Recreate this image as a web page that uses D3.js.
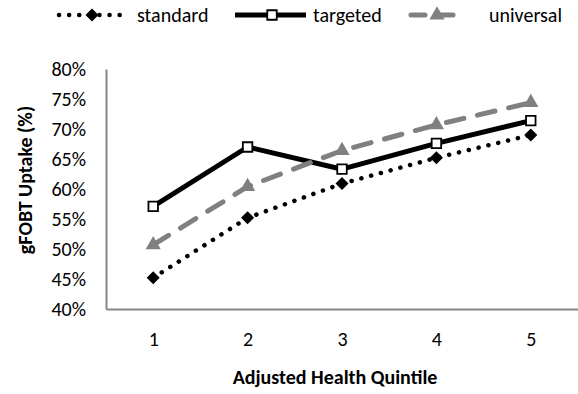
<!DOCTYPE html>
<html>
<head>
<meta charset="utf-8">
<script src="https://cdn.jsdelivr.net/npm/d3@7"></script>
<style>
  body { margin: 0; background: #fff; }
  text { font-family: Carlito, Lato, "Liberation Sans", sans-serif; }
</style>
</head>
<body>
<div id="chart"></div>
<script>
const quintiles = [1, 2, 3, 4, 5];
const standard = [0.452, 0.552, 0.609, 0.652, 0.690];
const targeted = [0.571, 0.670, 0.633, 0.676, 0.714];
const universal = [0.507, 0.604, 0.664, 0.707, 0.744];
const yTicks = [0.40, 0.45, 0.50, 0.55, 0.60, 0.65, 0.70, 0.75, 0.80];

const WIDTH = 578;
const HEIGHT = 394;
const AXIS_COLOR = "#868686";
const FONT = 20;

const svg = d3.select("#chart").append("svg")
  .attr("width", WIDTH)
  .attr("height", HEIGHT);

svg.append("rect")
  .attr("width", "100%")
  .attr("height", "100%")
  .attr("fill", "white");

const xScale = d3.scalePoint()
  .domain(quintiles)
  .range([106, 578])
  .padding(0.5);

const yScale = d3.scaleLinear()
  .domain([0.40, 0.80])
  .range([309, 69]);

// y axis
const yAxis = svg.append("g")
  .attr("transform", "translate(106,0)")
  .call(d3.axisLeft(yScale).tickValues(yTicks).tickFormat(d3.format(".0%")).tickSize(0).tickPadding(20));
yAxis.select(".domain").attr("stroke", AXIS_COLOR).attr("stroke-width", 2);
yAxis.selectAll("text").attr("font-size", FONT).attr("fill", "#000")
  .style("font-family", "Carlito, Lato, sans-serif");

// x axis
const xAxis = svg.append("g")
  .attr("transform", "translate(0,309)")
  .call(d3.axisBottom(xScale).tickSize(0).tickPadding(23));
xAxis.select(".domain").attr("stroke", AXIS_COLOR).attr("stroke-width", 2);
xAxis.selectAll("text").attr("font-size", FONT).attr("fill", "#000")
  .style("font-family", "Carlito, Lato, sans-serif");

// axis titles
svg.append("text")
  .attr("x", 335)
  .attr("y", 384)
  .attr("text-anchor", "middle")
  .attr("font-size", 20)
  .attr("font-weight", "bold")
  .text("Adjusted Health Quintile");

svg.append("text")
  .attr("transform", "translate(32,180) rotate(-90)")
  .attr("text-anchor", "middle")
  .attr("font-size", 20)
  .attr("font-weight", "bold")
  .text("gFOBT Uptake (%)");

const line = d3.line()
  .x((d, i) => xScale(quintiles[i]))
  .y(d => yScale(d));

const series = [
  { name: "standard", values: standard, color: "#000", width: 4.5, dash: "0.1 10", cap: "round", marker: d3.symbolSquare, rot: 45, size: 85, fill: "#000", mstroke: "none" },
  { name: "targeted", values: targeted, color: "#000", width: 5, dash: null, cap: "butt", marker: d3.symbolSquare, rot: 0, size: 90, fill: "#fff", mstroke: "#000" },
  { name: "universal", values: universal, color: "#808080", width: 5, dash: "18 14", cap: "round", marker: d3.symbolTriangle, rot: 0, size: 100, fill: "#808080", mstroke: "none" }
];

series.forEach(s => {
  svg.append("path")
    .datum(s.values)
    .attr("fill", "none")
    .attr("stroke", s.color)
    .attr("stroke-width", s.width)
    .attr("stroke-dasharray", s.dash)
    .attr("stroke-linecap", s.cap)
    .attr("stroke-linejoin", "round")
    .attr("d", line);

  svg.selectAll(null)
    .data(s.values)
    .enter()
    .append("path")
    .attr("transform", (d, i) => `translate(${xScale(quintiles[i])},${yScale(d)}) rotate(${s.rot})`)
    .attr("d", d3.symbol().type(s.marker).size(s.size))
    .attr("fill", s.fill)
    .attr("stroke", s.mstroke)
    .attr("stroke-width", 1.8);
});

// legend
const legend = [
  { s: series[0], x1: 59, x2: 124, mx: 92, tx: 137 },
  { s: series[1], x1: 235, x2: 306, mx: 272, tx: 313 },
  { s: series[2], x1: 411, x2: 467, mx: 437, tx: 489 }
];
const LY = 15;
legend.forEach(l => {
  const s = l.s;
  svg.append("line")
    .attr("x1", l.x1).attr("x2", l.x2)
    .attr("y1", LY).attr("y2", LY)
    .attr("stroke", s.color)
    .attr("stroke-width", s.width)
    .attr("stroke-dasharray", s.name === "universal" ? "14 14" : s.dash)
    .attr("stroke-linecap", s.cap);
  svg.append("path")
    .attr("transform", `translate(${l.mx},${LY}) rotate(${s.rot})`)
    .attr("d", d3.symbol().type(s.marker).size(s.size))
    .attr("fill", s.fill)
    .attr("stroke", s.mstroke)
    .attr("stroke-width", 1.8);
  svg.append("text")
    .attr("x", l.tx)
    .attr("y", LY)
    .attr("dy", "0.35em")
    .attr("font-size", FONT)
    .text(s.name);
});
</script>
</body>
</html>
